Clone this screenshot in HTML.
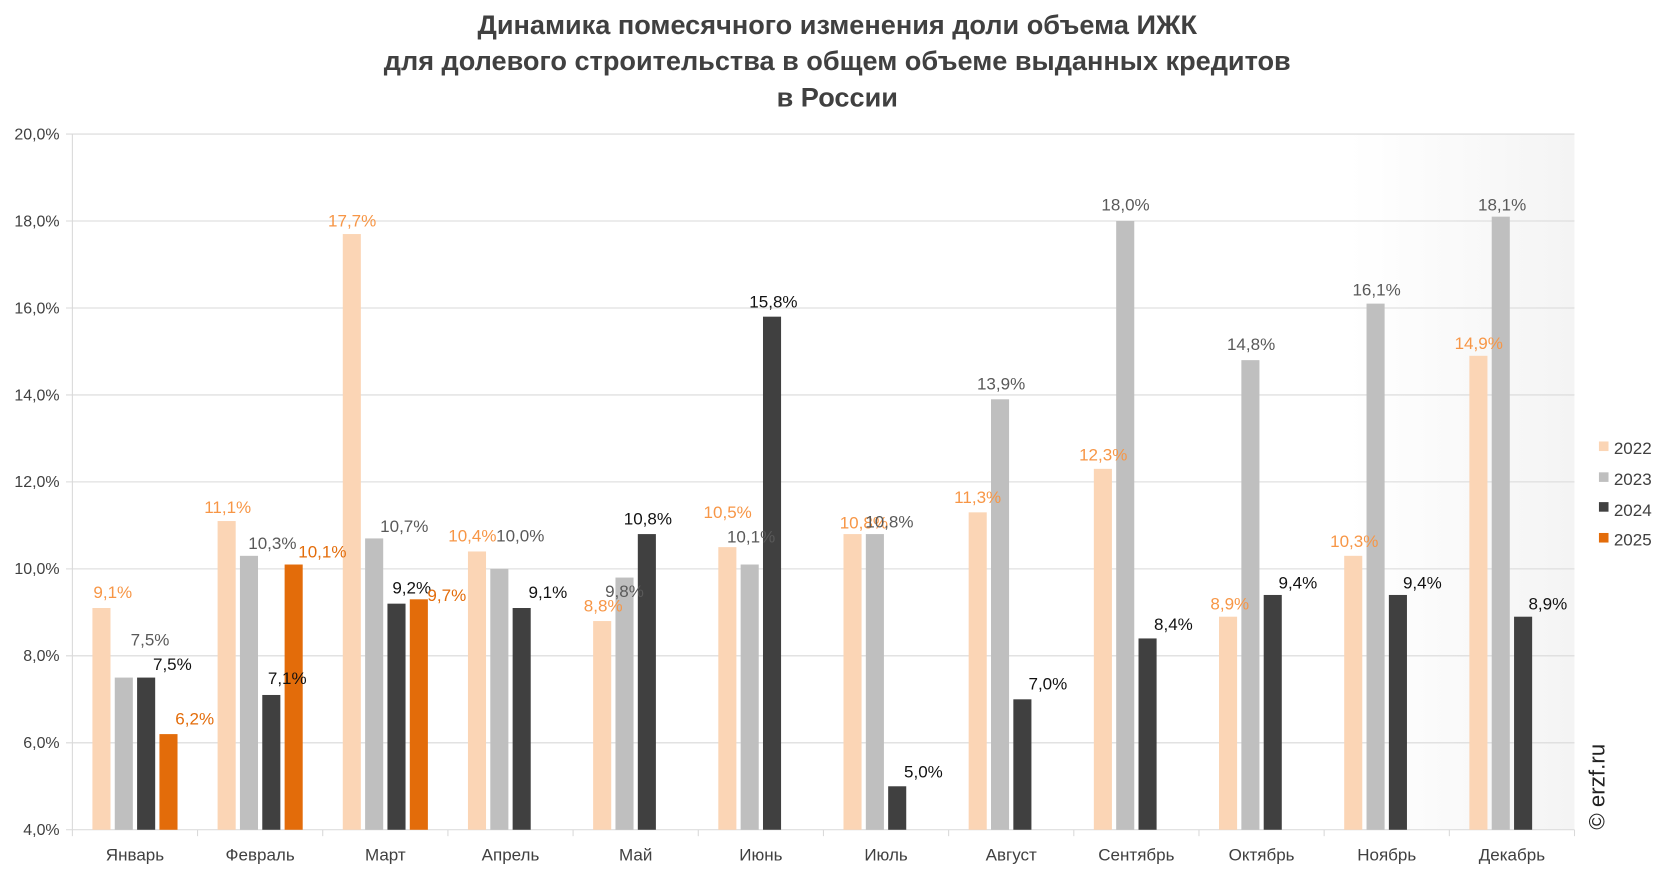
<!DOCTYPE html>
<html><head><meta charset="utf-8"><style>
html,body{margin:0;padding:0;background:#fff}
svg{display:block;font-family:"Liberation Sans","DejaVu Sans",sans-serif}
</style></head><body>
<svg width="1666" height="872" viewBox="0 0 1566 819.7" xmlns="http://www.w3.org/2000/svg">
<defs><linearGradient id="bg" x1="0" x2="1" y1="0" y2="0"><stop offset="0" stop-color="#fff"/><stop offset="0.85" stop-color="#fff"/><stop offset="1" stop-color="#f4f4f4"/></linearGradient></defs>
<rect x="68" y="126" width="1412" height="654" fill="url(#bg)"/>
<g font-weight="bold" fill="#404040" font-size="25.5" text-anchor="middle">
<text x="787" y="32">Динамика помесячного изменения доли объема ИЖК</text>
<text x="787" y="66">для долевого строительства в общем объеме выданных кредитов</text>
<text x="787" y="100">в России</text>
</g>
<g id="grid" stroke="#d9d9d9" stroke-width="1"></g>
<g id="ylab" font-size="15" fill="#404040" text-anchor="end"></g>
<g id="bars"></g>
<g id="xlab" font-size="16" fill="#404040" text-anchor="middle"></g>
<g id="labs" font-size="16" text-anchor="middle"></g>
<g font-size="16" fill="#404040">
<rect x="1503" y="415" width="9" height="9" fill="#FBD5B5"/><text x="1517" y="427">2022</text>
<rect x="1503" y="444" width="9" height="9" fill="#BFBFBF"/><text x="1517" y="456">2023</text>
<rect x="1503" y="472" width="9" height="9" fill="#404040"/><text x="1517" y="485">2024</text>
<rect x="1503" y="501" width="9" height="9" fill="#E36C0A"/><text x="1517" y="513">2025</text>
</g>
<text transform="translate(1508,780) rotate(-90)" font-size="21" fill="#222">© erzf.ru</text>
<script>
var NS="http://www.w3.org/2000/svg";
function el(p,t,a,txt){var e=document.createElementNS(NS,t);for(var k in a)e.setAttribute(k,a[k]);if(txt)e.textContent=txt;document.getElementById(p).appendChild(e);return e;}
function Y(v){return 780-(v-4)*40.875;}
for(var v=4;v<=20;v+=2){var y=Y(v);el("grid","line",{x1:62,x2:1480,y1:y,y2:y});el("ylab","text",{x:56,y:y+5},v.toFixed(1).replace(".",",")+"%");}
el("grid","line",{x1:68,x2:68,y1:126,y2:780});
for(var i=0;i<=12;i++){var x=68+i*117.67;el("grid","line",{x1:x,x2:x,y1:780,y2:786});}
var months=["Январь","Февраль","Март","Апрель","Май","Июнь","Июль","Август","Сентябрь","Октябрь","Ноябрь","Декабрь"];
var data=[[9.1,7.5,7.5,6.2],[11.1,10.3,7.1,10.1],[17.7,10.7,9.2,9.3],[10.4,10.0,9.1],[8.8,9.8,10.8],[10.5,10.1,15.8],[10.8,10.8,5.0],[11.3,13.9,7.0],[12.3,18.0,8.4],[8.9,14.8,9.4],[10.3,16.1,9.4],[14.9,18.1,8.9]];
var cols=["#FBD5B5","#BFBFBF","#404040","#E36C0A"];
var off=[-31.5,-10.5,10.5,31.5];
data.forEach(function(d,i){var c=68+(i+0.5)*117.67;el("xlab","text",{x:c,y:809},months[i]);
d.forEach(function(v,j){el("bars","rect",{x:c+off[j]-8.5,y:Y(v),width:17,height:780-Y(v),fill:cols[j]});});});
var lc=["#F79646","#595959","#111","#E36C0A"];
var L=[
[106,556,"9,1%",0],[141,601,"7,5%",1],[162,624,"7,5%",2],[183,675,"6,2%",3],
[214,476,"11,1%",0],[256,510,"10,3%",1],[270,637,"7,1%",2],[303,518,"10,1%",3],
[331,207,"17,7%",0],[380,494,"10,7%",1],[387,552,"9,2%",2],[420,559,"9,7%",3],
[444,503,"10,4%",0],[489,503,"10,0%",1],[515,556,"9,1%",2],
[567,569,"8,8%",0],[587,555,"9,8%",1],[609,487,"10,8%",2],
[684,481,"10,5%",0],[706,504,"10,1%",1],[727,283,"15,8%",2],
[812,491,"10,8%",0],[836,490,"10,8%",1],[868,725,"5,0%",2],
[919,467,"11,3%",0],[941,360,"13,9%",1],[985,642,"7,0%",2],
[1037,427,"12,3%",0],[1058,192,"18,0%",1],[1103,586,"8,4%",2],
[1156,567,"8,9%",0],[1176,323,"14,8%",1],[1220,547,"9,4%",2],
[1273,508,"10,3%",0],[1294,272,"16,1%",1],[1337,547,"9,4%",2],
[1390,322,"14,9%",0],[1412,192,"18,1%",1],[1455,567,"8,9%",2]];
L.forEach(function(l){el("labs","text",{x:l[0],y:l[1]+6,fill:lc[l[3]]},l[2]);});
</script>
</svg>
</body></html>
